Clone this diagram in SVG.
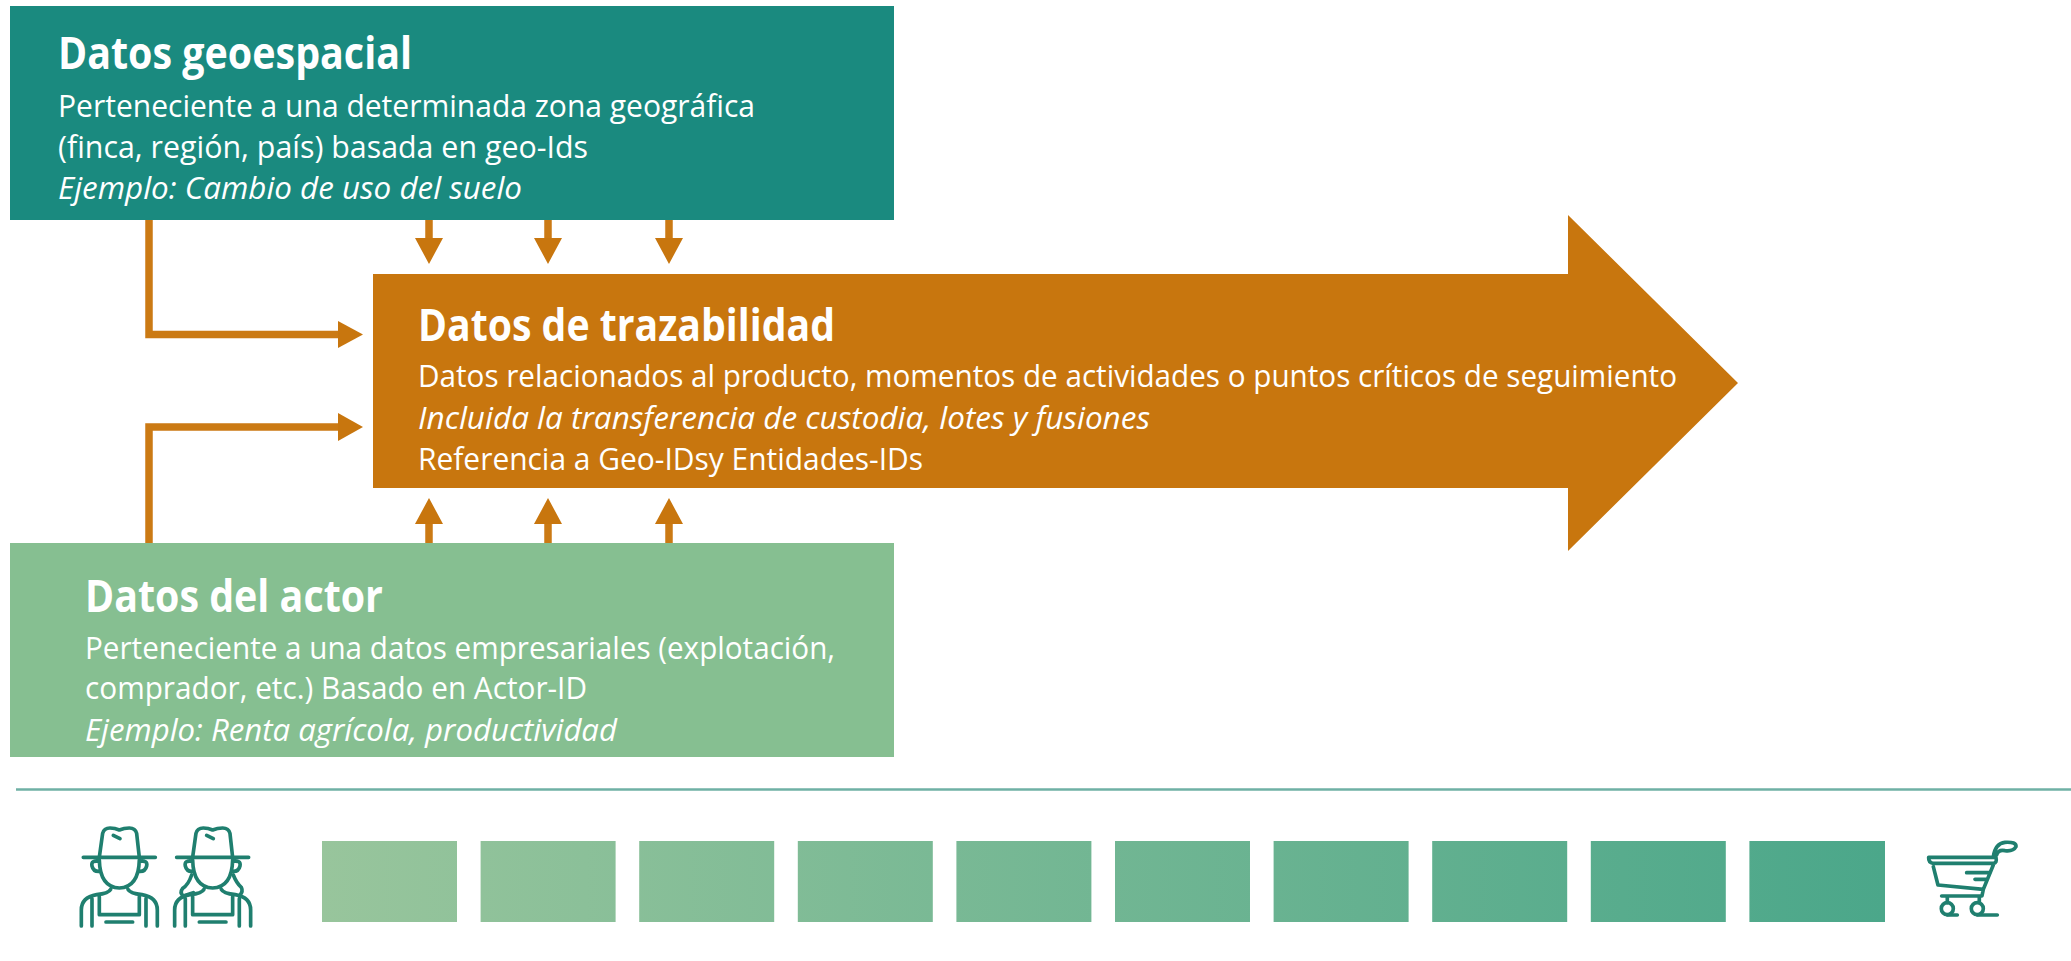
<svg xmlns="http://www.w3.org/2000/svg" width="2071" height="961" viewBox="0 0 2071 961">
<style>
text{font-family:"Open Sans","Noto Sans","Liberation Sans",sans-serif;fill:#fff}
.t{font-size:44px;font-weight:700}
.b{font-size:31px}
.i{font-size:31px;font-style:italic}
.c{fill:none;stroke:#cb7a14;stroke-width:7.500}
.h{fill:#c8760e}
.ic{fill:none;stroke:#1f7f6f;stroke-width:11;stroke-linecap:round;stroke-linejoin:round}
.s{fill:url(#ramp)}
</style>
<defs>
<linearGradient id="ramp" gradientUnits="userSpaceOnUse" x1="322" y1="0" x2="1885" y2="0">
<stop offset="0" stop-color="#98c59c"/><stop offset="1" stop-color="#4ba78a"/>
</linearGradient>
<g id="farmer">
<path d="M298 172L308 100Q312 84 330 84Q345 84 358 90Q372 84 388 84Q406 84 410 100L418 172M250 172H466M340 106L360 116M298 180Q300 262 358 264Q416 262 418 180M298 184Q272 180 276 198Q280 216 300 214M418 184Q444 180 440 198Q436 216 416 214M332 268Q326 280 290 284Q244 292 244 330V378M384 268Q390 280 426 284Q472 292 472 330V378M276 296V378M298 290V344H418V290M438 296V378M318 366H398"/>
</g>
</defs>
<g id="connectors">
<path class="c" d="M149 220V334.500H340"/>
<path class="h" d="M338 321L363 334.500L338 348Z"/>
<path class="c" d="M149 543V427H340"/>
<path class="h" d="M338 413L363 427L338 441Z"/>
<path class="c" d="M429 220V240M548 220V240M669 220V240M429 543V520M548 543V520M669 543V520"/>
<path class="h" d="M415 238H443L429 264ZM534 238H562L548 264ZM655 238H683L669 264ZM415 524H443L429 498ZM534 524H562L548 498ZM655 524H683L669 498Z"/>
</g>
<g id="geo">
<rect x="10" y="6" width="884" height="214" fill="#1a8a7f"/>
<text class="t" x="58" y="69" textLength="354" lengthAdjust="spacingAndGlyphs">Datos geoespacial</text>
<text class="b" x="58" y="117" textLength="697" lengthAdjust="spacingAndGlyphs">Perteneciente a una determinada zona geográfica</text>
<text class="b" x="58" y="158" textLength="530" lengthAdjust="spacingAndGlyphs">(finca, región, país) basada en geo-Ids</text>
<text class="i" x="58" y="199" textLength="464" lengthAdjust="spacingAndGlyphs">Ejemplo: Cambio de uso del suelo</text>
</g>
<g id="trazabilidad">
<path d="M373 274H1568V215L1738 383L1568 551V488H373Z" fill="#c8760e"/>
<text class="t" x="418" y="341" textLength="417" lengthAdjust="spacingAndGlyphs">Datos de trazabilidad</text>
<text class="b" x="418" y="387" textLength="1259" lengthAdjust="spacingAndGlyphs">Datos relacionados al producto, momentos de actividades o puntos críticos de seguimiento</text>
<text class="i" x="418" y="429" textLength="732" lengthAdjust="spacingAndGlyphs">Incluida la transferencia de custodia, lotes y fusiones</text>
<text class="b" x="418" y="470" textLength="505" lengthAdjust="spacingAndGlyphs">Referencia a Geo-IDsy Entidades-IDs</text>
</g>
<g id="actor">
<rect x="10" y="543" width="884" height="214" fill="#86bf91"/>
<text class="t" x="85" y="612" textLength="298" lengthAdjust="spacingAndGlyphs">Datos del actor</text>
<text class="b" x="85" y="659" textLength="750" lengthAdjust="spacingAndGlyphs">Perteneciente a una datos empresariales (explotación,</text>
<text class="b" x="85" y="699" textLength="502" lengthAdjust="spacingAndGlyphs">comprador, etc.) Basado en Actor-ID</text>
<text class="i" x="85" y="741" textLength="532" lengthAdjust="spacingAndGlyphs">Ejemplo: Renta agrícola, productividad</text>
</g>
<path id="divider" d="M16 789.500H2071" stroke="#6fb0a5" stroke-width="2.500" fill="none"/>
<g id="chain">
<rect class="s" x="322" y="841" width="135" height="81"/>
<rect class="s" x="480.600" y="841" width="135" height="81"/>
<rect class="s" x="639.200" y="841" width="135" height="81"/>
<rect class="s" x="797.800" y="841" width="135" height="81"/>
<rect class="s" x="956.400" y="841" width="135" height="81"/>
<rect class="s" x="1115" y="841" width="135" height="81"/>
<rect class="s" x="1273.600" y="841" width="135" height="81"/>
<rect class="s" x="1432.200" y="841" width="135" height="81"/>
<rect class="s" x="1590.800" y="841" width="135" height="81"/>
<rect class="s" x="1749.400" y="841" width="135.600" height="81"/>
</g>
<g id="farmers" class="ic" transform="translate(0 800) scale(.3333)">
<use href="#farmer"/>
<g transform="translate(280 0)">
<use href="#farmer"/>
<path d="M295 225Q285 255 268 265Q258 278 270 288L300 278M420 225Q430 250 444 262Q450 275 440 285"/>
</g>
</g>
<g id="cart" class="ic" transform="translate(1700 800) scale(.3333)">
<path d="M686 172H888Q892 190 880 190H700Q685 188 686 172ZM700 200L714 255L850 268L880 195M800 218H868M825 238H860M850 268L846 288H725M880 170Q886 130 915 127Q950 125 948 140Q940 155 915 152Q895 148 890 165M742 290V308M838 290V308M742 345H772M832 345H892"/>
<circle cx="742" cy="326" r="18"/>
<circle cx="832" cy="326" r="18"/>
</g>
</svg>
